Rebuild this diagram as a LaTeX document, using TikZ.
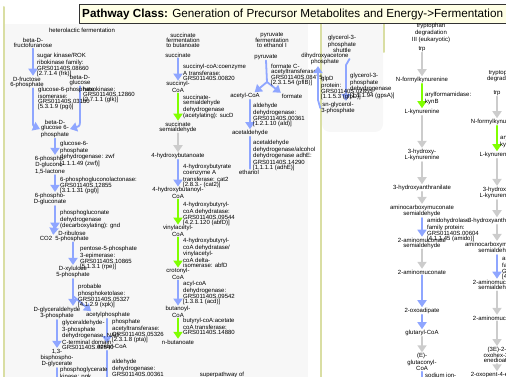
\documentclass[tikz,border=0pt]{standalone}
\usepackage{fontspec}
\setmainfont{Liberation Sans}
\usetikzlibrary{arrows.meta}
\definecolor{ttaaff}{rgb}{0.56,0.65,1.}
\definecolor{aaffqq}{rgb}{0.5,1.,0.}
\definecolor{cccccc}{rgb}{0.8,0.8,0.8}
\definecolor{ddddaa}{rgb}{0.85,0.87,0.64}
\definecolor{ffffee}{rgb}{1.,1.,0.9}
\definecolor{wwwwww}{rgb}{0.97,0.97,0.97}

\begin{document}
\begin{tikzpicture}[line cap=round,line join=round,>={Triangle[width=9pt,length=7pt]},x=1pt,y=-1pt,
  met/.style={font=\fontsize{6}{5}\selectfont,align=center,inner sep=0.8pt},
  enz/.style={font=\fontsize{6}{5}\selectfont,align=left,anchor=north west,inner sep=0pt},
  bluerxn/.style={->,draw=ttaaff,line width=1.8pt},
  greenrxn/.style={->,draw=aaffqq,line width=1.8pt},
  grayrxn/.style={->,draw=cccccc,line width=1.8pt}]
\useasboundingbox (0,0) rectangle (506,377);
\clip (0,0) rectangle (506,377);
% panels and frame
\fill [wwwwww] (5,24) rectangle (308,380);
\fill [wwwwww,rounded corners=8pt] (322,20) rectangle (383,132);
\draw [ddddaa,line width=2pt] (4,7) -- (4,380);
\draw [ddddaa,line width=2pt] (321,24) -- (321,380);
\draw [ddddaa,line width=2pt] (384,24) -- (384,52);
\draw [color=black!80,fill=ffffee] (79,4.5) rectangle (512,23.5);
\node [anchor=west,inner sep=0pt,font=\fontsize{11.7}{12}\selectfont] (title) at (82,14) {\textbf{Pathway Class:} Generation of Precursor Metabolites and Energy->Fermentation};

% heterolactic fermentation
\node [met] (hetero) at (82,30) {heterolactic fermentation};
\node [met] (fruf) at (33,43) {beta-D-\\fructofuranose};
\node [met] (f6p) at (27,82) {D-fructose\\6-phosphate};
\node [met] (glcb) at (80,80) {beta-D-\\glucose};
\node [met] (g6p) at (55,129) {beta-D-\\glucose 6-\\phosphate};
\node [met] (pgl) at (50,165) {6-phospho-\\D-glucono-\\1,5-lactone};
\node [met] (glcnp) at (50,199) {6-phospho-\\D-gluconate};
\node [met] (ru5p) at (72,236) {D-ribulose\\5-phosphate};
\node [met] (co2) at (46,238) {CO2};
\node [met] (xu5p) at (73,272) {D-xylulose\\5-phosphate};
\node [met] (gap) at (57,313) {D-glyceraldehyde\\3-phosphate};
\node [met] (acp) at (108,315) {acetylphosphate};
\node [met] (bpg) at (57,358) {1,3-\\bisphospho-\\D-glycerate};
\node [met] (accoaA) at (112,347) {acetyl-CoA};
\coordinate (xub) at (73,296);
\coordinate (bpgend) at (57,390);
\coordinate (accoaend) at (107,390);
\draw [bluerxn] (fruf.south) -- (fruf.south |- f6p.north);
\draw [bluerxn] (f6p.south -| fruf.south) -- (33,118) .. controls (33,126) .. (g6p.west);
\draw [bluerxn] (glcb.south) -- (80,118) .. controls (80,126) .. (g6p.east);
\draw [bluerxn] (g6p.south) -- (g6p.south |- pgl.north);
\draw [bluerxn] (pgl.south -| g6p.south) -- (g6p.south |- glcnp.north);
\draw [bluerxn] (glcnp.south -| g6p.south) -- (g6p.south |- ru5p.north);
\draw [bluerxn] (55,222) .. controls (54,228) .. (co2.north east);
\draw [bluerxn] (ru5p.south -| xu5p.south) -- (xu5p.north);
\draw [bluerxn] (xu5p.south) -- (xu5p.south |- gap.north);
\draw [bluerxn] (xub) -- ([xshift=6pt]acp.north west);
\draw [bluerxn] (gap.south) -- (gap.south |- bpg.north);
\draw [bluerxn,-] (bpg.south) -- (bpgend);
\draw [bluerxn] (acp.south -| accoaend) -- (accoaend |- accoaA.north);
\draw [bluerxn,-] (accoaA.south -| accoaend) -- (accoaend);
\node [enz] (frk) at (37,53) {sugar kinase/ROK\\ribokinase family:\\GRS01140S.08660\\{}[2.7.1.4 (frk)]};
\node [enz] (pgi) at (38,87) {glucose-6-phosphate\\isomerase:\\GRS01140S.03150\\{}[5.3.1.9 (pgi)]};
\node [enz] (hxk) at (83,87) {hexokinase:\\GRS01140S.12860\\{}[2.7.1.1 (glk)]};
\node [enz] (zwf) at (60,141) {glucose-6-\\phosphate\\dehydrogenase: zwf\\{}[1.1.1.49 (zwf)]};
\node [enz] (pgls) at (60,177) {6-phosphogluconolactonase:\\GRS01140S.12855\\{}[3.1.1.31 (pgl)]};
\node [enz] (gnd) at (60,210) {phosphogluconate\\dehydrogenase\\(decarboxylating): gnd};
\node [enz] (rpe) at (80,246) {pentose-5-phosphate\\3-epimerase:\\GRS01140S.10865\\{}[5.1.3.1 (rpe)]};
\node [enz] (xpk) at (78,284) {probable\\phosphoketolase:\\GRS01140S.05327\\{}[4.1.2.9 (xpk)]};
\node [enz] (gapdh) at (62,320) {glyceraldehyde-\\3-phosphate\\dehydrogenase, NAD\\C-terminal domain\\GRS01140S.02540};
\node [enz] (pgk) at (60,367) {phosphoglycerate\\kinase: pgk};
\node [enz] (pta) at (112,319) {phosphate\\acetyltransferase:\\GRS01140S.05326\\{}[2.3.1.8 (pta)]};
\node [enz] (aldA) at (112,359) {aldehyde\\dehydrogenase:\\GRS01140S.00361};

% succinate fermentation to butanoate
\node [met] (succferm) at (183,40) {succinate\\fermentation\\to butanoate};
\node [met] (succ) at (178,55) {succinate};
\node [met] (succoa) at (178,87) {succinyl-\\CoA};
\node [met] (ssa) at (178,127) {succinate\\semialdehyde};
\node [met] (ghb) at (178,156) {4-hydroxybutanoate};
\node [met] (ghbcoa) at (178,193) {4-hydroxybutanoyl-\\CoA};
\node [met] (vacoa) at (178,231) {vinylacetyl-\\CoA};
\node [met] (crcoa) at (178,274) {crotonyl-\\CoA};
\node [met] (bucoa) at (178,312) {butanoyl-\\CoA};
\node [met] (but) at (178,342) {n-butanoate};
\node [met] (superpw) at (222,375) {superpathway of};
\draw [bluerxn] (succ.south) -- (succoa.north);
\draw [greenrxn] (succoa.south) -- (ssa.north);
\draw [grayrxn] (ssa.south) -- (ghb.north);
\draw [bluerxn] (ghb.south) -- (ghbcoa.north);
\draw [greenrxn] (ghbcoa.south) -- (vacoa.north);
\draw [greenrxn] (vacoa.south) -- (crcoa.north);
\draw [bluerxn] (crcoa.south) -- (bucoa.north);
\draw [greenrxn] (bucoa.south) -- (but.north);
\node [enz] (cat1) at (183,64) {succinyl-coA:coenzyme\\A transferase:\\GRS01140S.00820};
\node [enz] (sucD) at (183,95) {succinate-\\semialdehyde\\dehydrogenase\\(acetylating): sucD};
\node [enz] (cat2) at (183,164) {4-hydroxybutyrate\\coenzyme A\\transferase: cat2\\{}[2.8.3.- (cat2)]};
\node [enz] (abfDa) at (183,202) {4-hydroxybutyryl-\\coA dehydratase:\\GRS01140S.09544\\{}[4.2.1.120 (abfD)]};
\node [enz] (abfDb) at (183,238) {4-hydroxybutyryl-\\coA dehydratase/\\vinylacetyl-\\coA delta-\\isomerase: abfD};
\node [enz] (acd) at (183,281) {acyl-coA\\dehydrogenase:\\GRS01140S.09542\\{}[1.3.8.1 (acd)]};
\node [enz] (atoD) at (183,318) {butyryl-coA:acetate\\coA transferase:\\GRS01140S.14880};

% pyruvate fermentation to ethanol I
\node [met] (pyrferm) at (272,40) {pyruvate\\fermentation\\to ethanol I};
\node [met] (pyr) at (266,57) {pyruvate};
\node [met] (accoaB) at (245,96) {acetyl-CoA};
\node [met] (form) at (292,96) {formate};
\node [met] (acald) at (250,133) {acetaldehyde};
\node [met] (etoh) at (249,172) {ethanol};
\coordinate (pyrb) at (267,82);
\draw [bluerxn] (pyr.south) -- (pyrb) -- ([xshift=-6pt]accoaB.north east);
\draw [bluerxn] (pyrb) -- (form.north west);
\draw [bluerxn] (acald.north |- accoaB.south) -- (acald.north);
\draw [bluerxn,-] (acald.south) -- (acald.south |- etoh.north);
\node [enz] (pflB) at (271,64) {formate C-\\acetyltransferase:\\GRS01140S.08475\\{}[2.3.1.54 (pflB)]};
\node [enz] (aldB) at (253,103) {aldehyde\\dehydrogenase:\\GRS01140S.00361\\{}[1.2.1.10 (ald)]};
\node [enz] (adhE) at (253,140) {acetaldehyde\\dehydrogenase/alcohol\\dehydrogenase adhE:\\GRS01140S.14290\\{}[1.1.1.1 (adhE)]};

% glycerol-3-phosphate shuttle
\node [met] (glyshut) at (342,44) {glycerol-3-\\phosphate\\shuttle};
\node [met] (dhap) at (325,59) {dihydroxyacetone\\phosphate};
\node [met] (glyp) at (338,108) {sn-glycerol-\\3-phosphate};
\coordinate (glyl) at (318,100);
\coordinate (glyr) at (346,65);
\draw [bluerxn] (dhap.east) -- (glyr) -- (glyr |- glyp.north);
\draw [bluerxn] (glyp.west) -- (glyl) -- (glyl |- dhap.south);
\node [enz] (gpsA) at (350,73) {glycerol-3-\\phosphate\\dehydrogenase\\{}[1.1.1.94 (gpsA)]};
\node [enz] (glpD) at (321,76) {glpD\\protein:\\GRS01140S.02855\\{}[1.1.5.3 (glpD)]};

% tryptophan degradation III (eukaryotic)
\node [met] (trpdeg) at (431,33) {tryptophan\\degradation\\III (eukaryotic)};
\node [met] (trpA) at (422,49) {trp};
\node [met] (nfkA) at (422,80) {N-formylkynurenine};
\node [met] (kynA) at (422,112) {L-kynurenine};
\node [met] (hkynA) at (422,155) {3-hydroxy-\\L-kynurenine};
\node [met] (haaA) at (422,188) {3-hydroxyanthranilate};
\node [met] (acmsA) at (422,211) {aminocarboxymuconate\\semialdehyde};
\node [met] (amsA) at (422,243) {2-aminomuconate\\semialdehyde};
\node [met] (amA) at (422,272) {2-aminomuconate};
\node [met] (oxaA) at (422,311) {2-oxoadipate};
\node [met] (glutA) at (422,333) {glutaryl-CoA};
\node [met] (glutcA) at (422,362) {(E)-\\glutaconyl-\\CoA};
\coordinate (trpendA) at (422,390);
\draw [grayrxn] (trpA) -- (nfkA);
\draw [greenrxn] (nfkA) -- (kynA);
\draw [grayrxn] (kynA) -- (hkynA);
\draw [grayrxn] (hkynA) -- (haaA);
\draw [grayrxn] (haaA) -- (acmsA);
\draw [bluerxn] (acmsA) -- (amsA);
\draw [grayrxn] (amsA) -- (amA);
\draw [bluerxn] (amA) -- (oxaA);
\draw [bluerxn] (oxaA) -- (glutA);
\draw [grayrxn] (glutA) -- (glutcA);
\draw [bluerxn,-] (glutcA) -- (trpendA);
\node [enz] (kynBA) at (425,92) {arylformamidase:\\kynB};
\node [enz] (amidoA) at (427,218) {amidohydrolase\\family protein:\\GRS01140S.00604\\{}[4.1.1.45 (amido)]};
\node [enz] (sodA) at (425,373) {sodium ion-};

% second tryptophan degradation column
\node [met] (trpdegB) at (503,76) {tryptophan\\degradation};
\node [met] (trpB) at (497,93) {trp};
\node [met] (nfkB) at (497,122) {N-formylkynurenine};
\node [met] (kynB) at (497,155) {L-kynurenine};
\node [met] (hkynB) at (497,193) {3-hydroxy-\\L-kynurenine};
\node [met] (haaB) at (497,221) {3-hydroxyanthranilate};
\node [met] (acmsB) at (497,248) {aminocarboxymuconate\\semialdehyde};
\node [met] (amsB) at (497,285) {2-aminomuconate\\semialdehyde};
\node [met] (amB) at (497,318) {2-aminomuconate};
\node [met] (ohdB) at (497,355) {(3E)-2-\\oxohex-3-\\enedioate};
\node [met] (opB) at (497,375) {2-oxopent-4-enoate};
\draw [grayrxn] (trpB) -- (nfkB);
\draw [greenrxn] (nfkB) -- (kynB);
\draw [grayrxn] (kynB) -- (hkynB);
\draw [grayrxn] (hkynB) -- (haaB);
\draw [grayrxn] (haaB) -- (acmsB);
\draw [bluerxn] (acmsB) -- (amsB);
\draw [grayrxn] (amsB) -- (amB);
\draw [grayrxn] (amB) -- (ohdB);
\draw [grayrxn] (ohdB) -- (opB);
\node [enz] (kynBB) at (500,135) {arylformamidase:\\kynB};
\node [enz] (amidoB) at (502,256) {amidohydrolase\\family protein:\\GRS01140S.00604\\{}[4.1.1.45 (amido)]};
\end{tikzpicture}
\end{document}
